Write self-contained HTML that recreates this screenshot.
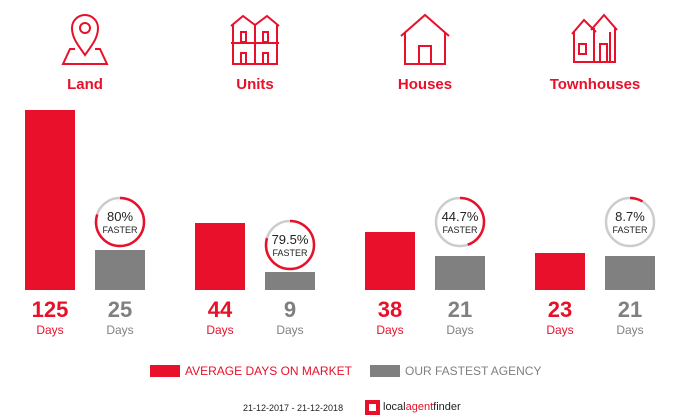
<!DOCTYPE html>
<html><head><style>
body{margin:0;width:700px;height:420px;background:#fff;font-family:"Liberation Sans",sans-serif;position:relative;overflow:hidden}
.a{position:absolute}
.lbl{position:absolute;top:76px;width:170px;text-align:center;color:#e8102a;font-size:15px;font-weight:bold}
.n{position:absolute;top:297px;width:70px;text-align:center;font-size:22px;font-weight:bold}
.d{position:absolute;top:323px;width:70px;text-align:center;font-size:12px}
.r{color:#e8102a}.g{color:#808080}
</style></head><body>
<svg class="a" style="left:0;top:0" width="700" height="300" fill="none" stroke="#e8102a" stroke-width="2">
<path d="M85 55 C78 45 72 38 72 28 A13 13 0 0 1 98 28 C98 38 92 45 85 55Z"/>
<circle cx="85" cy="28" r="5"/>
<path d="M75 49 L70 49 L63 64 L107 64 L100 49 L95 49"/>
<path d="M231 26 L243 16 L255 25 L267 16 L279 26 M233 24 V64 H277 V24 M255 25 V64 M231 43 H279"/>
<rect x="241" y="32" width="5" height="10"/><rect x="263" y="32" width="5" height="10"/>
<rect x="241" y="53" width="5" height="11"/><rect x="263" y="53" width="5" height="11"/>
<path d="M401 36 L425 15 L449 36 M405 33 V64 H445 V33"/>
<rect x="419" y="46" width="12" height="18"/>
<path d="M572 34 L584 20 L596 32 M574 32 V62 H610 V32 M591 30 L604 15 L617 30 M594 28 V62 M615 28 V62 H608"/>
<rect x="579" y="44" width="7" height="10"/><rect x="600" y="44" width="7" height="18"/>
</svg>
<div class="lbl" style="left:0">Land</div>
<div class="lbl" style="left:170px">Units</div>
<div class="lbl" style="left:340px">Houses</div>
<div class="lbl" style="left:510px">Townhouses</div>

<div class="a" style="left:25px;top:110px;width:50px;height:180px;background:#e8102a"></div>
<div class="a" style="left:95px;top:250px;width:50px;height:40px;background:#808080"></div>
<div class="a" style="left:195px;top:223px;width:50px;height:67px;background:#e8102a"></div>
<div class="a" style="left:265px;top:272px;width:50px;height:18px;background:#808080"></div>
<div class="a" style="left:365px;top:232px;width:50px;height:58px;background:#e8102a"></div>
<div class="a" style="left:435px;top:256px;width:50px;height:34px;background:#808080"></div>
<div class="a" style="left:535px;top:253px;width:50px;height:37px;background:#e8102a"></div>
<div class="a" style="left:605px;top:256px;width:50px;height:34px;background:#808080"></div>

<svg class="a" style="left:0;top:0" width="700" height="300" fill="#fff" stroke-width="2.5">
<g transform="rotate(-90 120 222)"><circle cx="120" cy="222" r="24" stroke="#ccc"/><circle cx="120" cy="222" r="24" stroke="#e8102a" fill="none" stroke-dasharray="120.6 200"/></g>
<g transform="rotate(-90 290 245)"><circle cx="290" cy="245" r="24" stroke="#ccc"/><circle cx="290" cy="245" r="24" stroke="#e8102a" fill="none" stroke-dasharray="119.9 200"/></g>
<g transform="rotate(-90 460 222)"><circle cx="460" cy="222" r="24" stroke="#ccc"/><circle cx="460" cy="222" r="24" stroke="#e8102a" fill="none" stroke-dasharray="67.4 200"/></g>
<g transform="rotate(-90 630 222)"><circle cx="630" cy="222" r="24" stroke="#ccc"/><circle cx="630" cy="222" r="24" stroke="#e8102a" fill="none" stroke-dasharray="13.1 200"/></g>
<g fill="#222" stroke="none" font-family="Liberation Sans,sans-serif" text-anchor="middle">
<text x="120" y="221" font-size="13">80%</text><text x="120" y="233" font-size="9">FASTER</text>
<text x="290" y="244" font-size="13">79.5%</text><text x="290" y="256" font-size="9">FASTER</text>
<text x="460" y="221" font-size="13">44.7%</text><text x="460" y="233" font-size="9">FASTER</text>
<text x="630" y="221" font-size="13">8.7%</text><text x="630" y="233" font-size="9">FASTER</text>
</g></svg>

<div class="n r" style="left:15px">125</div><div class="d r" style="left:15px">Days</div>
<div class="n g" style="left:85px">25</div><div class="d g" style="left:85px">Days</div>
<div class="n r" style="left:185px">44</div><div class="d r" style="left:185px">Days</div>
<div class="n g" style="left:255px">9</div><div class="d g" style="left:255px">Days</div>
<div class="n r" style="left:355px">38</div><div class="d r" style="left:355px">Days</div>
<div class="n g" style="left:425px">21</div><div class="d g" style="left:425px">Days</div>
<div class="n r" style="left:525px">23</div><div class="d r" style="left:525px">Days</div>
<div class="n g" style="left:595px">21</div><div class="d g" style="left:595px">Days</div>

<div class="a" style="left:150px;top:365px;width:30px;height:12px;background:#e8102a"></div>
<div class="a r" style="left:185px;top:364px;font-size:12px">AVERAGE DAYS ON MARKET</div>
<div class="a" style="left:370px;top:365px;width:30px;height:12px;background:#808080"></div>
<div class="a g" style="left:405px;top:364px;font-size:12px">OUR FASTEST AGENCY</div>

<div class="a" style="left:243px;top:403px;font-size:9px;color:#222">21-12-2017 - 21-12-2018</div>
<div class="a" style="left:365px;top:400px;width:15px;height:15px;background:#e8102a"></div>
<div class="a" style="left:369px;top:404px;width:7px;height:7px;background:#fff"></div>
<div class="a" style="left:383px;top:401px;font-size:11px;color:#222">local<span class="r">agent</span>finder</div>
</body></html>
